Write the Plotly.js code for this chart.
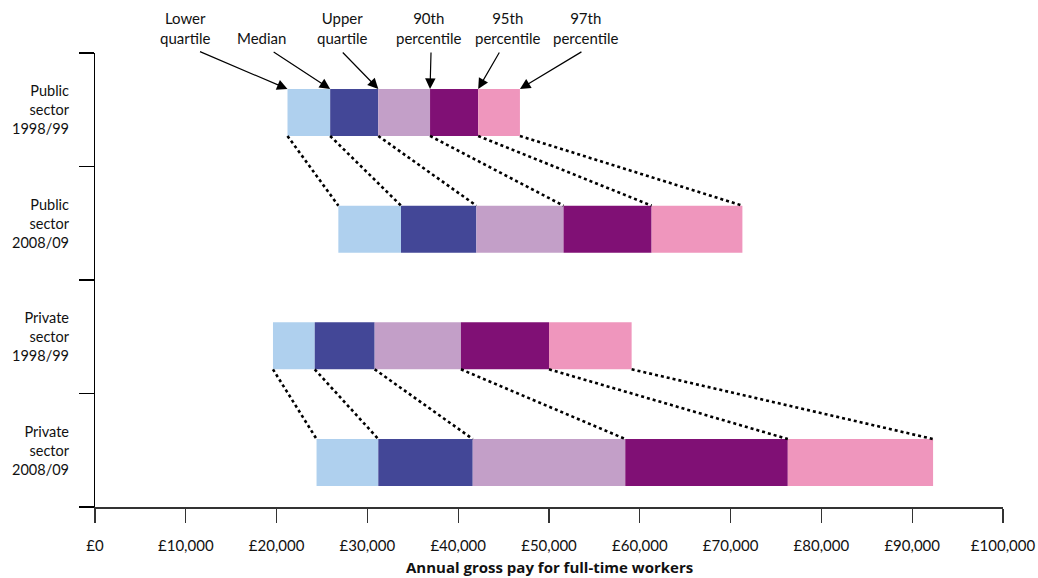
<!DOCTYPE html>
<html>
<head>
<meta charset="utf-8">
<script src="https://cdn.plot.ly/plotly-3.0.1.min.js"></script>
<style>html,body{margin:0;padding:0;background:#fff;}#chart{width:1038px;height:578px;}</style>
</head>
<body>
<div id="chart"></div>
<script>
// ---- data ----
const rowLabels = ['Public<br>sector<br>1998/99', 'Public<br>sector<br>2008/09', 'Private<br>sector<br>1998/99', 'Private<br>sector<br>2008/09'];
const lowerQuartile = [21200, 26800, 19600, 24400];
const median        = [25900, 33700, 24200, 31200];
const upperQuartile = [31200, 42000, 30800, 41600];
const p90           = [36900, 51600, 40300, 58400];
const p95           = [42200, 61300, 50000, 76300];
const p97           = [46800, 71300, 59100, 92300];
const pointLabels = ['Lower<br>quartile', 'Median', 'Upper<br>quartile', '90th<br>percentile', '95th<br>percentile', '97th<br>percentile'];
const tickValues = [0, 10000, 20000, 30000, 40000, 50000, 60000, 70000, 80000, 90000, 100000];
const tickLabels = ['£0', '£10,000', '£20,000', '£30,000', '£40,000', '£50,000', '£60,000', '£70,000', '£80,000', '£90,000', '£100,000'];
const axisTitle = 'Annual gross pay for full-time workers';

// ---- styling / layout ----
const segColors = ['#AFD0EE', '#434797', '#C39FC8', '#801075', '#EF96BD'];
const FONT = 'Lato, "Open Sans", sans-serif';
const nRows = rowLabels.length;
const barW = 0.414;
const rowCenter = rowLabels.map((_, i) => 0.392 + 1.028 * (nRows - 1 - i));
const series = [lowerQuartile, median, upperQuartile, p90, p95, p97];
const rowVals = rowLabels.map((_, r) => series.map(s => s[r]));

const traces = [];
for (let s = 0; s < 5; s++) {
  traces.push({
    type: 'bar', orientation: 'h',
    y: rowCenter,
    x: rowVals.map(v => v[s + 1] - v[s]),
    base: rowVals.map(v => v[s]),
    width: barW,
    marker: {color: segColors[s], line: {width: 0}},
    hoverinfo: 'skip', showlegend: false
  });
}
// dotted connectors between 1998/99 and 2008/09 bars
[[0, 1], [2, 3]].forEach(([a, b]) => {
  const xs = [], ys = [];
  for (let k = 0; k < 6; k++) {
    xs.push(rowVals[a][k], rowVals[b][k], null);
    ys.push(rowCenter[a] - barW / 2, rowCenter[b] + barW / 2, null);
  }
  traces.push({
    type: 'scatter', mode: 'lines', x: xs, y: ys,
    line: {color: '#000', width: 2.6, dash: '3px,3px'},
    hoverinfo: 'skip', showlegend: false, cliponaxis: false
  });
});

const annotations = [];
// arrows to first bar
const arrowDx = [-89, -58, -37, 1, 22, 63];
const textDx = [-103, -69, -36, -2, 29, 66];
for (let k = 0; k < 6; k++) {
  annotations.push({
    x: rowVals[0][k], y: rowCenter[0] + barW / 2, xref: 'x', yref: 'y',
    text: '', showarrow: true, ax: arrowDx[k], ay: -38,
    arrowhead: 2, arrowsize: 1.75, arrowwidth: 1.2, arrowcolor: '#000',
    standoff: 0, font: {size: 1}
  });
  annotations.push({
    x: rowVals[0][k], xref: 'x', xshift: textDx[k],
    y: 1, yref: 'paper', yanchor: 'bottom', yshift: 4,
    text: pointLabels[k], showarrow: false, align: 'center',
    font: {family: FONT, size: 15, color: '#111'}
  });
}
// row labels
rowLabels.forEach((t, i) => {
  annotations.push({
    x: 0, xref: 'paper', xanchor: 'right', xshift: -23,
    y: nRows - 1 - i + 0.5, yref: 'y', yanchor: 'middle',
    text: t, showarrow: false, align: 'right',
    font: {family: FONT, size: 14.5, color: '#111'}
  });
});
// x-axis title
annotations.push({
  x: 0.5, xref: 'paper', y: 0, yref: 'paper', yanchor: 'middle', yshift: -60,
  text: '<b>' + axisTitle + '</b>', showarrow: false,
  font: {family: '"Open Sans", Lato, sans-serif', size: 15, color: '#111'}
});

const layout = {
  width: 1038, height: 578,
  margin: {l: 95, r: 35, t: 53, b: 71, pad: 0},
  paper_bgcolor: '#fff', plot_bgcolor: '#fff',
  barmode: 'overlay',
  showlegend: false,
  font: {family: FONT, size: 15, color: '#111'},
  xaxis: {
    range: [0, 100000], tickvals: tickValues, ticktext: tickLabels,
    ticks: 'outside', ticklen: 14, tickwidth: 1.3, tickcolor: '#333',
    showline: true, linecolor: '#333', linewidth: 2,
    showgrid: false, zeroline: false, fixedrange: true,
    ticklabelstandoff: 10,
    tickfont: {family: FONT, size: 15, color: '#111'}
  },
  yaxis: {
    range: [0, 4], tickvals: [0, 1, 2, 3, 4], showticklabels: false,
    ticks: 'outside', ticklen: 15, tickwidth: 1.3, tickcolor: '#000',
    showline: true, linecolor: '#000', linewidth: 1.3,
    showgrid: false, zeroline: false, fixedrange: true
  },
  annotations: annotations
};

Plotly.newPlot('chart', traces, layout, {displayModeBar: false, staticPlot: true});
</script>
</body>
</html>
